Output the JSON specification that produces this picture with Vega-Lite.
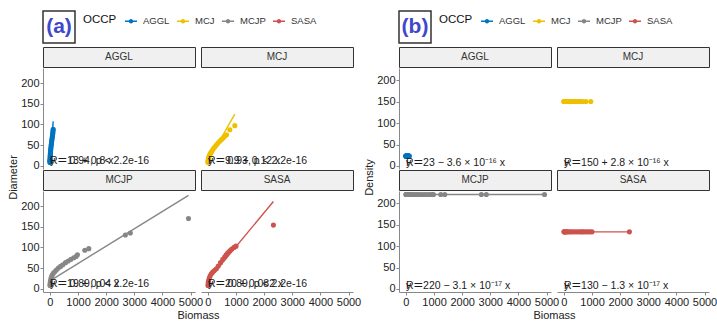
{
"$schema":"https://vega.github.io/schema/vega-lite/v6.json",
"background":"white",
"padding":{"left":7,"top":10,"right":0,"bottom":0},
"datasets":{
"pts":[
{"OCCP":"AGGL","Biomass":1,"Diameter":8,"Density":23},{"OCCP":"AGGL","Biomass":2,"Diameter":10,"Density":23},{"OCCP":"AGGL","Biomass":3,"Diameter":12,"Density":23},{"OCCP":"AGGL","Biomass":5,"Diameter":15,"Density":23},{"OCCP":"AGGL","Biomass":7,"Diameter":18,"Density":23},{"OCCP":"AGGL","Biomass":10,"Diameter":22,"Density":23},{"OCCP":"AGGL","Biomass":13,"Diameter":25,"Density":23},{"OCCP":"AGGL","Biomass":17,"Diameter":29,"Density":23},{"OCCP":"AGGL","Biomass":21,"Diameter":32,"Density":23},{"OCCP":"AGGL","Biomass":26,"Diameter":36,"Density":23},{"OCCP":"AGGL","Biomass":31,"Diameter":40,"Density":23},{"OCCP":"AGGL","Biomass":37,"Diameter":44,"Density":23},{"OCCP":"AGGL","Biomass":44,"Diameter":48,"Density":23},{"OCCP":"AGGL","Biomass":51,"Diameter":52,"Density":23},{"OCCP":"AGGL","Biomass":58,"Diameter":56,"Density":23},{"OCCP":"AGGL","Biomass":66,"Diameter":60,"Density":23},{"OCCP":"AGGL","Biomass":74,"Diameter":64,"Density":23},{"OCCP":"AGGL","Biomass":82,"Diameter":68,"Density":23},{"OCCP":"AGGL","Biomass":90,"Diameter":72,"Density":23},{"OCCP":"AGGL","Biomass":98,"Diameter":76,"Density":23},{"OCCP":"AGGL","Biomass":105,"Diameter":80,"Density":23},{"OCCP":"AGGL","Biomass":111,"Diameter":84,"Density":23},{"OCCP":"AGGL","Biomass":118,"Diameter":88,"Density":23},
{"OCCP":"MCJ","Biomass":2,"Diameter":8,"Density":150},{"OCCP":"MCJ","Biomass":5,"Diameter":10,"Density":150},{"OCCP":"MCJ","Biomass":10,"Diameter":13,"Density":150},{"OCCP":"MCJ","Biomass":18,"Diameter":16,"Density":150},{"OCCP":"MCJ","Biomass":28,"Diameter":19,"Density":150},{"OCCP":"MCJ","Biomass":40,"Diameter":22,"Density":150},{"OCCP":"MCJ","Biomass":55,"Diameter":25,"Density":150},{"OCCP":"MCJ","Biomass":75,"Diameter":28,"Density":150},{"OCCP":"MCJ","Biomass":100,"Diameter":31,"Density":150},{"OCCP":"MCJ","Biomass":130,"Diameter":34,"Density":150},{"OCCP":"MCJ","Biomass":165,"Diameter":38,"Density":150},{"OCCP":"MCJ","Biomass":205,"Diameter":42,"Density":150},{"OCCP":"MCJ","Biomass":250,"Diameter":46,"Density":150},{"OCCP":"MCJ","Biomass":300,"Diameter":50,"Density":150},{"OCCP":"MCJ","Biomass":360,"Diameter":55,"Density":150},{"OCCP":"MCJ","Biomass":420,"Diameter":59,"Density":150},{"OCCP":"MCJ","Biomass":480,"Diameter":63,"Density":150},{"OCCP":"MCJ","Biomass":540,"Diameter":67,"Density":150},{"OCCP":"MCJ","Biomass":600,"Diameter":71,"Density":150},{"OCCP":"MCJ","Biomass":663,"Diameter":75,"Density":150},{"OCCP":"MCJ","Biomass":780,"Diameter":87,"Density":150},{"OCCP":"MCJ","Biomass":957,"Diameter":97,"Density":150},
{"OCCP":"MCJP","Biomass":3,"Diameter":8,"Density":220},{"OCCP":"MCJP","Biomass":8,"Diameter":12,"Density":220},{"OCCP":"MCJP","Biomass":15,"Diameter":16,"Density":220},{"OCCP":"MCJP","Biomass":25,"Diameter":20,"Density":220},{"OCCP":"MCJP","Biomass":40,"Diameter":25,"Density":220},{"OCCP":"MCJP","Biomass":60,"Diameter":29,"Density":220},{"OCCP":"MCJP","Biomass":85,"Diameter":33,"Density":220},{"OCCP":"MCJP","Biomass":120,"Diameter":37,"Density":220},{"OCCP":"MCJP","Biomass":170,"Diameter":41,"Density":220},{"OCCP":"MCJP","Biomass":230,"Diameter":45,"Density":220},{"OCCP":"MCJP","Biomass":300,"Diameter":50,"Density":220},{"OCCP":"MCJP","Biomass":380,"Diameter":54,"Density":220},{"OCCP":"MCJP","Biomass":460,"Diameter":58,"Density":220},{"OCCP":"MCJP","Biomass":556,"Diameter":63,"Density":220},{"OCCP":"MCJP","Biomass":650,"Diameter":67,"Density":220},{"OCCP":"MCJP","Biomass":750,"Diameter":71,"Density":220},{"OCCP":"MCJP","Biomass":850,"Diameter":75,"Density":220},{"OCCP":"MCJP","Biomass":930,"Diameter":78,"Density":220},{"OCCP":"MCJP","Biomass":980,"Diameter":82,"Density":220},{"OCCP":"MCJP","Biomass":1241,"Diameter":93,"Density":220},{"OCCP":"MCJP","Biomass":1383,"Diameter":97,"Density":220},{"OCCP":"MCJP","Biomass":2684,"Diameter":130,"Density":220},{"OCCP":"MCJP","Biomass":2861,"Diameter":135,"Density":220},{"OCCP":"MCJP","Biomass":4929,"Diameter":170,"Density":220},
{"OCCP":"SASA","Biomass":3,"Diameter":8,"Density":133},{"OCCP":"SASA","Biomass":10,"Diameter":14,"Density":133},{"OCCP":"SASA","Biomass":25,"Diameter":20,"Density":133},{"OCCP":"SASA","Biomass":50,"Diameter":26,"Density":133},{"OCCP":"SASA","Biomass":80,"Diameter":31,"Density":133},{"OCCP":"SASA","Biomass":120,"Diameter":36,"Density":133},{"OCCP":"SASA","Biomass":170,"Diameter":40,"Density":133},{"OCCP":"SASA","Biomass":230,"Diameter":44,"Density":133},{"OCCP":"SASA","Biomass":300,"Diameter":48,"Density":133},{"OCCP":"SASA","Biomass":370,"Diameter":55,"Density":133},{"OCCP":"SASA","Biomass":450,"Diameter":63,"Density":133},{"OCCP":"SASA","Biomass":530,"Diameter":71,"Density":133},{"OCCP":"SASA","Biomass":600,"Diameter":77,"Density":133},{"OCCP":"SASA","Biomass":650,"Diameter":82,"Density":133},{"OCCP":"SASA","Biomass":710,"Diameter":87,"Density":133},{"OCCP":"SASA","Biomass":780,"Diameter":92,"Density":133},{"OCCP":"SASA","Biomass":850,"Diameter":96,"Density":133},{"OCCP":"SASA","Biomass":930,"Diameter":100,"Density":133},{"OCCP":"SASA","Biomass":1000,"Diameter":103,"Density":133},{"OCCP":"SASA","Biomass":2330,"Diameter":154,"Density":133}
],
"fit":[
{"OCCP":"AGGL","Biomass":1,"Diameter":13.8,"Density":23},{"OCCP":"AGGL","Biomass":118,"Diameter":107.4,"Density":23},
{"OCCP":"MCJ","Biomass":2,"Diameter":10.1,"Density":150},{"OCCP":"MCJ","Biomass":957,"Diameter":124.7,"Density":150},
{"OCCP":"MCJP","Biomass":3,"Diameter":19.1,"Density":220},{"OCCP":"MCJP","Biomass":4929,"Diameter":226,"Density":220},
{"OCCP":"SASA","Biomass":3,"Diameter":20.2,"Density":133},{"OCCP":"SASA","Biomass":2330,"Diameter":211.1,"Density":133}
],
"eq":[
{"OCCP":"AGGL","corA":"R = 0.94, p < 2.2e-16","eqA":"y = 13 + 0.8 x","corB":"R =","eqB":"y = 23 − 3.6 × 10⁻¹⁶ x"},
{"OCCP":"MCJ","corA":"R = 0.93, p < 2.2e-16","eqA":"y = 9.9 + 0.12 x","corB":"R =","eqB":"y = 150 + 2.8 × 10⁻¹⁶ x"},
{"OCCP":"MCJP","corA":"R = 0.89, p < 2.2e-16","eqA":"y = 19 + 0.04 x","corB":"R =","eqB":"y = 220 − 3.1 × 10⁻¹⁷ x"},
{"OCCP":"SASA","corA":"R = 0.89, p < 2.2e-16","eqA":"y = 20 + 0.082 x","corB":"R =","eqB":"y = 130 − 1.3 × 10⁻¹⁷ x"}
]
},
"config":{
"font":"Liberation Sans",
"view":{"stroke":null},
"axis":{"grid":false,"domainColor":"#888888","tickColor":"#888888","tickSize":3,"labelFontSize":11,"labelColor":"#222222","labelPadding":1,"labelFlush":false,"labelOverlap":false,"titleFontSize":11,"titleFontWeight":"normal","titleColor":"#222222"},
"legend":{"orient":"none","legendX":40,"legendY":4,"direction":"horizontal","titleOrient":"left","titleFontSize":11.5,"titleFontWeight":"normal","titleColor":"#111111","labelFontSize":9.5,"labelColor":"#333333","symbolSize":144,"symbolStrokeWidth":0,"columnPadding":7,"labelOffset":6,"titlePadding":8}
},
"resolve":{"scale":{"color":"independent"},"legend":{"color":"independent"}},
"spacing":2,
"hconcat":[
{"vconcat":[
 {"width":32,"height":32,"data":{"values":[{"panel":"(a)"}]},"view":{"stroke":"#333333","strokeWidth":1.5,"fill":"#ffffff"},"mark":{"type":"text","fontSize":21,"fontWeight":"bold","color":"#3f48cc"},"encoding":{"text":{"field":"panel"}}},
 {"concat":[
  {"width":152,"height":20,"data":{"values":[{"OCCP":"AGGL"}]},"view":{"fill":"#f0f0f0","stroke":"#333333","strokeWidth":1},"mark":{"type":"text","fontSize":10,"color":"#333333"},"encoding":{"text":{"field":"OCCP"}}},
  {"width":152,"height":20,"data":{"values":[{"OCCP":"MCJ"}]},"view":{"fill":"#f0f0f0","stroke":"#333333","strokeWidth":1},"mark":{"type":"text","fontSize":10,"color":"#333333"},"encoding":{"text":{"field":"OCCP"}}},
  {"width":152,"height":101,"layer":[
   {"data":{"name":"pts"},"transform":[{"filter":"datum.OCCP === 'AGGL'"}],"mark":{"type":"circle","size":26,"opacity":1},"encoding":{"x":{"field":"Biomass","type":"quantitative","scale":{"domain":[-245,5160],"nice":false,"zero":false},"axis":null},"y":{"field":"Diameter","type":"quantitative","scale":{"domain":[-8,236.5],"nice":false,"zero":false},"axis":{"values":[0,50,100,150,200],"title":"Diameter","titleY":109,"titlePadding":2}},"color":{"field":"OCCP","type":"nominal","scale":{"domain":["AGGL","MCJ","MCJP","SASA"],"range":["#0073C2","#EFC000","#868686","#CD534C"]},"legend":{"title":"OCCP","symbolType":"M-1,-0.12H1V0.12H-1ZM0.38,0A0.38,0.38,0,1,1,-0.38,0A0.38,0.38,0,1,1,0.38,0Z"}}}},
   {"data":{"name":"fit"},"transform":[{"filter":"datum.OCCP === 'AGGL'"}],"mark":{"type":"line","strokeWidth":1.4},"encoding":{"x":{"field":"Biomass","type":"quantitative","axis":null},"y":{"field":"Diameter","type":"quantitative","axis":{"values":[0,50,100,150,200],"title":"Diameter","titleY":109,"titlePadding":2}},"color":{"field":"OCCP","type":"nominal","legend":null}}},
   {"data":{"name":"eq"},"transform":[{"filter":"datum.OCCP === 'AGGL'"}],"mark":{"type":"text","align":"left","baseline":"alphabetic","fontSize":10.5,"color":"#1a1a1a"},"encoding":{"x":{"datum":0,"type":"quantitative","axis":null},"y":{"datum":3,"type":"quantitative","axis":{"values":[0,50,100,150,200],"title":"Diameter","titleY":109,"titlePadding":2}},"text":{"field":"corA"}}},
   {"data":{"name":"eq"},"transform":[{"filter":"datum.OCCP === 'AGGL'"}],"mark":{"type":"text","align":"left","baseline":"alphabetic","fontSize":10.5,"color":"#1a1a1a"},"encoding":{"x":{"datum":0,"type":"quantitative","axis":null},"y":{"datum":3,"type":"quantitative","axis":{"values":[0,50,100,150,200],"title":"Diameter","titleY":109,"titlePadding":2}},"text":{"field":"eqA"}}}
  ]},
  {"width":152,"height":101,"layer":[
   {"data":{"name":"pts"},"transform":[{"filter":"datum.OCCP === 'MCJ'"}],"mark":{"type":"circle","size":26,"opacity":1},"encoding":{"x":{"field":"Biomass","type":"quantitative","scale":{"domain":[-245,5160],"nice":false,"zero":false},"axis":null},"y":{"field":"Diameter","type":"quantitative","scale":{"domain":[-8,236.5],"nice":false,"zero":false},"axis":null},"color":{"field":"OCCP","type":"nominal","scale":{"domain":["AGGL","MCJ","MCJP","SASA"],"range":["#0073C2","#EFC000","#868686","#CD534C"]},"legend":{"title":"OCCP","symbolType":"M-1,-0.12H1V0.12H-1ZM0.38,0A0.38,0.38,0,1,1,-0.38,0A0.38,0.38,0,1,1,0.38,0Z"}}}},
   {"data":{"name":"fit"},"transform":[{"filter":"datum.OCCP === 'MCJ'"}],"mark":{"type":"line","strokeWidth":1.4},"encoding":{"x":{"field":"Biomass","type":"quantitative","axis":null},"y":{"field":"Diameter","type":"quantitative","axis":null},"color":{"field":"OCCP","type":"nominal","legend":null}}},
   {"data":{"name":"eq"},"transform":[{"filter":"datum.OCCP === 'MCJ'"}],"mark":{"type":"text","align":"left","baseline":"alphabetic","fontSize":10.5,"color":"#1a1a1a"},"encoding":{"x":{"datum":0,"type":"quantitative","axis":null},"y":{"datum":3,"type":"quantitative","axis":null},"text":{"field":"corA"}}},
   {"data":{"name":"eq"},"transform":[{"filter":"datum.OCCP === 'MCJ'"}],"mark":{"type":"text","align":"left","baseline":"alphabetic","fontSize":10.5,"color":"#1a1a1a"},"encoding":{"x":{"datum":0,"type":"quantitative","axis":null},"y":{"datum":3,"type":"quantitative","axis":null},"text":{"field":"eqA"}}}
  ]},
  {"width":152,"height":20,"data":{"values":[{"OCCP":"MCJP"}]},"view":{"fill":"#f0f0f0","stroke":"#333333","strokeWidth":1},"mark":{"type":"text","fontSize":10,"color":"#333333"},"encoding":{"text":{"field":"OCCP"}}},
  {"width":152,"height":20,"data":{"values":[{"OCCP":"SASA"}]},"view":{"fill":"#f0f0f0","stroke":"#333333","strokeWidth":1},"mark":{"type":"text","fontSize":10,"color":"#333333"},"encoding":{"text":{"field":"OCCP"}}},
  {"width":152,"height":101,"layer":[
   {"data":{"name":"pts"},"transform":[{"filter":"datum.OCCP === 'MCJP'"}],"mark":{"type":"circle","size":26,"opacity":1},"encoding":{"x":{"field":"Biomass","type":"quantitative","scale":{"domain":[-245,5160],"nice":false,"zero":false},"axis":{"values":[0,1000,2000,3000,4000,5000],"format":"d","title":"Biomass","titleX":155,"titlePadding":2}},"y":{"field":"Diameter","type":"quantitative","scale":{"domain":[-8,236.5],"nice":false,"zero":false},"axis":{"values":[0,50,100,150,200],"title":null}},"color":{"field":"OCCP","type":"nominal","scale":{"domain":["AGGL","MCJ","MCJP","SASA"],"range":["#0073C2","#EFC000","#868686","#CD534C"]},"legend":{"title":"OCCP","symbolType":"M-1,-0.12H1V0.12H-1ZM0.38,0A0.38,0.38,0,1,1,-0.38,0A0.38,0.38,0,1,1,0.38,0Z"}}}},
   {"data":{"name":"fit"},"transform":[{"filter":"datum.OCCP === 'MCJP'"}],"mark":{"type":"line","strokeWidth":1.4},"encoding":{"x":{"field":"Biomass","type":"quantitative","axis":{"values":[0,1000,2000,3000,4000,5000],"format":"d","title":"Biomass","titleX":155,"titlePadding":2}},"y":{"field":"Diameter","type":"quantitative","axis":{"values":[0,50,100,150,200],"title":null}},"color":{"field":"OCCP","type":"nominal","legend":null}}},
   {"data":{"name":"eq"},"transform":[{"filter":"datum.OCCP === 'MCJP'"}],"mark":{"type":"text","align":"left","baseline":"alphabetic","fontSize":10.5,"color":"#1a1a1a"},"encoding":{"x":{"datum":0,"type":"quantitative","axis":{"values":[0,1000,2000,3000,4000,5000],"format":"d","title":"Biomass","titleX":155,"titlePadding":2}},"y":{"datum":3,"type":"quantitative","axis":{"values":[0,50,100,150,200],"title":null}},"text":{"field":"corA"}}},
   {"data":{"name":"eq"},"transform":[{"filter":"datum.OCCP === 'MCJP'"}],"mark":{"type":"text","align":"left","baseline":"alphabetic","fontSize":10.5,"color":"#1a1a1a"},"encoding":{"x":{"datum":0,"type":"quantitative","axis":{"values":[0,1000,2000,3000,4000,5000],"format":"d","title":"Biomass","titleX":155,"titlePadding":2}},"y":{"datum":3,"type":"quantitative","axis":{"values":[0,50,100,150,200],"title":null}},"text":{"field":"eqA"}}}
  ]},
  {"width":152,"height":101,"layer":[
   {"data":{"name":"pts"},"transform":[{"filter":"datum.OCCP === 'SASA'"}],"mark":{"type":"circle","size":26,"opacity":1},"encoding":{"x":{"field":"Biomass","type":"quantitative","scale":{"domain":[-245,5160],"nice":false,"zero":false},"axis":{"values":[0,1000,2000,3000,4000,5000],"format":"d","title":null}},"y":{"field":"Diameter","type":"quantitative","scale":{"domain":[-8,236.5],"nice":false,"zero":false},"axis":null},"color":{"field":"OCCP","type":"nominal","scale":{"domain":["AGGL","MCJ","MCJP","SASA"],"range":["#0073C2","#EFC000","#868686","#CD534C"]},"legend":{"title":"OCCP","symbolType":"M-1,-0.12H1V0.12H-1ZM0.38,0A0.38,0.38,0,1,1,-0.38,0A0.38,0.38,0,1,1,0.38,0Z"}}}},
   {"data":{"name":"fit"},"transform":[{"filter":"datum.OCCP === 'SASA'"}],"mark":{"type":"line","strokeWidth":1.4},"encoding":{"x":{"field":"Biomass","type":"quantitative","axis":{"values":[0,1000,2000,3000,4000,5000],"format":"d","title":null}},"y":{"field":"Diameter","type":"quantitative","axis":null},"color":{"field":"OCCP","type":"nominal","legend":null}}},
   {"data":{"name":"eq"},"transform":[{"filter":"datum.OCCP === 'SASA'"}],"mark":{"type":"text","align":"left","baseline":"alphabetic","fontSize":10.5,"color":"#1a1a1a"},"encoding":{"x":{"datum":0,"type":"quantitative","axis":{"values":[0,1000,2000,3000,4000,5000],"format":"d","title":null}},"y":{"datum":3,"type":"quantitative","axis":null},"text":{"field":"corA"}}},
   {"data":{"name":"eq"},"transform":[{"filter":"datum.OCCP === 'SASA'"}],"mark":{"type":"text","align":"left","baseline":"alphabetic","fontSize":10.5,"color":"#1a1a1a"},"encoding":{"x":{"datum":0,"type":"quantitative","axis":{"values":[0,1000,2000,3000,4000,5000],"format":"d","title":null}},"y":{"datum":3,"type":"quantitative","axis":null},"text":{"field":"eqA"}}}
  ]}
 ],"columns":2,"spacing":{"row":1,"column":6},"bounds":"flush"}
],"spacing":2},
{"vconcat":[
 {"width":32,"height":32,"data":{"values":[{"panel":"(b)"}]},"view":{"stroke":"#333333","strokeWidth":1.5,"fill":"#ffffff"},"mark":{"type":"text","fontSize":21,"fontWeight":"bold","color":"#3f48cc"},"encoding":{"text":{"field":"panel"}}},
 {"concat":[
  {"width":152,"height":20,"data":{"values":[{"OCCP":"AGGL"}]},"view":{"fill":"#f0f0f0","stroke":"#333333","strokeWidth":1},"mark":{"type":"text","fontSize":10,"color":"#333333"},"encoding":{"text":{"field":"OCCP"}}},
  {"width":152,"height":20,"data":{"values":[{"OCCP":"MCJ"}]},"view":{"fill":"#f0f0f0","stroke":"#333333","strokeWidth":1},"mark":{"type":"text","fontSize":10,"color":"#333333"},"encoding":{"text":{"field":"OCCP"}}},
  {"width":152,"height":101,"layer":[
   {"data":{"name":"pts"},"transform":[{"filter":"datum.OCCP === 'AGGL'"}],"mark":{"type":"circle","size":26,"opacity":1},"encoding":{"x":{"field":"Biomass","type":"quantitative","scale":{"domain":[-245,5160],"nice":false,"zero":false},"axis":null},"y":{"field":"Density","type":"quantitative","scale":{"domain":[-7,228],"nice":false,"zero":false},"axis":{"values":[0,50,100,150,200],"title":"Density","titleY":109,"titlePadding":2}},"color":{"field":"OCCP","type":"nominal","scale":{"domain":["AGGL","MCJ","MCJP","SASA"],"range":["#0073C2","#EFC000","#868686","#CD534C"]},"legend":{"title":"OCCP","symbolType":"M-1,-0.12H1V0.12H-1ZM0.38,0A0.38,0.38,0,1,1,-0.38,0A0.38,0.38,0,1,1,0.38,0Z"}}}},
   {"data":{"name":"fit"},"transform":[{"filter":"datum.OCCP === 'AGGL'"}],"mark":{"type":"line","strokeWidth":1.4},"encoding":{"x":{"field":"Biomass","type":"quantitative","axis":null},"y":{"field":"Density","type":"quantitative","axis":{"values":[0,50,100,150,200],"title":"Density","titleY":109,"titlePadding":2}},"color":{"field":"OCCP","type":"nominal","legend":null}}},
   {"data":{"name":"eq"},"transform":[{"filter":"datum.OCCP === 'AGGL'"}],"mark":{"type":"text","align":"left","baseline":"alphabetic","fontSize":10.5,"color":"#1a1a1a"},"encoding":{"x":{"datum":0,"type":"quantitative","axis":null},"y":{"datum":1,"type":"quantitative","axis":{"values":[0,50,100,150,200],"title":"Density","titleY":109,"titlePadding":2}},"text":{"field":"corB"}}},
   {"data":{"name":"eq"},"transform":[{"filter":"datum.OCCP === 'AGGL'"}],"mark":{"type":"text","align":"left","baseline":"alphabetic","fontSize":10.5,"color":"#1a1a1a"},"encoding":{"x":{"datum":0,"type":"quantitative","axis":null},"y":{"datum":1,"type":"quantitative","axis":{"values":[0,50,100,150,200],"title":"Density","titleY":109,"titlePadding":2}},"text":{"field":"eqB"}}}
  ]},
  {"width":152,"height":101,"layer":[
   {"data":{"name":"pts"},"transform":[{"filter":"datum.OCCP === 'MCJ'"}],"mark":{"type":"circle","size":26,"opacity":1},"encoding":{"x":{"field":"Biomass","type":"quantitative","scale":{"domain":[-245,5160],"nice":false,"zero":false},"axis":null},"y":{"field":"Density","type":"quantitative","scale":{"domain":[-7,228],"nice":false,"zero":false},"axis":null},"color":{"field":"OCCP","type":"nominal","scale":{"domain":["AGGL","MCJ","MCJP","SASA"],"range":["#0073C2","#EFC000","#868686","#CD534C"]},"legend":{"title":"OCCP","symbolType":"M-1,-0.12H1V0.12H-1ZM0.38,0A0.38,0.38,0,1,1,-0.38,0A0.38,0.38,0,1,1,0.38,0Z"}}}},
   {"data":{"name":"fit"},"transform":[{"filter":"datum.OCCP === 'MCJ'"}],"mark":{"type":"line","strokeWidth":1.4},"encoding":{"x":{"field":"Biomass","type":"quantitative","axis":null},"y":{"field":"Density","type":"quantitative","axis":null},"color":{"field":"OCCP","type":"nominal","legend":null}}},
   {"data":{"name":"eq"},"transform":[{"filter":"datum.OCCP === 'MCJ'"}],"mark":{"type":"text","align":"left","baseline":"alphabetic","fontSize":10.5,"color":"#1a1a1a"},"encoding":{"x":{"datum":0,"type":"quantitative","axis":null},"y":{"datum":1,"type":"quantitative","axis":null},"text":{"field":"corB"}}},
   {"data":{"name":"eq"},"transform":[{"filter":"datum.OCCP === 'MCJ'"}],"mark":{"type":"text","align":"left","baseline":"alphabetic","fontSize":10.5,"color":"#1a1a1a"},"encoding":{"x":{"datum":0,"type":"quantitative","axis":null},"y":{"datum":1,"type":"quantitative","axis":null},"text":{"field":"eqB"}}}
  ]},
  {"width":152,"height":20,"data":{"values":[{"OCCP":"MCJP"}]},"view":{"fill":"#f0f0f0","stroke":"#333333","strokeWidth":1},"mark":{"type":"text","fontSize":10,"color":"#333333"},"encoding":{"text":{"field":"OCCP"}}},
  {"width":152,"height":20,"data":{"values":[{"OCCP":"SASA"}]},"view":{"fill":"#f0f0f0","stroke":"#333333","strokeWidth":1},"mark":{"type":"text","fontSize":10,"color":"#333333"},"encoding":{"text":{"field":"OCCP"}}},
  {"width":152,"height":101,"layer":[
   {"data":{"name":"pts"},"transform":[{"filter":"datum.OCCP === 'MCJP'"}],"mark":{"type":"circle","size":26,"opacity":1},"encoding":{"x":{"field":"Biomass","type":"quantitative","scale":{"domain":[-245,5160],"nice":false,"zero":false},"axis":{"values":[0,1000,2000,3000,4000,5000],"format":"d","title":"Biomass","titleX":155,"titlePadding":2}},"y":{"field":"Density","type":"quantitative","scale":{"domain":[-7,228],"nice":false,"zero":false},"axis":{"values":[0,50,100,150,200],"title":null}},"color":{"field":"OCCP","type":"nominal","scale":{"domain":["AGGL","MCJ","MCJP","SASA"],"range":["#0073C2","#EFC000","#868686","#CD534C"]},"legend":{"title":"OCCP","symbolType":"M-1,-0.12H1V0.12H-1ZM0.38,0A0.38,0.38,0,1,1,-0.38,0A0.38,0.38,0,1,1,0.38,0Z"}}}},
   {"data":{"name":"fit"},"transform":[{"filter":"datum.OCCP === 'MCJP'"}],"mark":{"type":"line","strokeWidth":1.4},"encoding":{"x":{"field":"Biomass","type":"quantitative","axis":{"values":[0,1000,2000,3000,4000,5000],"format":"d","title":"Biomass","titleX":155,"titlePadding":2}},"y":{"field":"Density","type":"quantitative","axis":{"values":[0,50,100,150,200],"title":null}},"color":{"field":"OCCP","type":"nominal","legend":null}}},
   {"data":{"name":"eq"},"transform":[{"filter":"datum.OCCP === 'MCJP'"}],"mark":{"type":"text","align":"left","baseline":"alphabetic","fontSize":10.5,"color":"#1a1a1a"},"encoding":{"x":{"datum":0,"type":"quantitative","axis":{"values":[0,1000,2000,3000,4000,5000],"format":"d","title":"Biomass","titleX":155,"titlePadding":2}},"y":{"datum":1,"type":"quantitative","axis":{"values":[0,50,100,150,200],"title":null}},"text":{"field":"corB"}}},
   {"data":{"name":"eq"},"transform":[{"filter":"datum.OCCP === 'MCJP'"}],"mark":{"type":"text","align":"left","baseline":"alphabetic","fontSize":10.5,"color":"#1a1a1a"},"encoding":{"x":{"datum":0,"type":"quantitative","axis":{"values":[0,1000,2000,3000,4000,5000],"format":"d","title":"Biomass","titleX":155,"titlePadding":2}},"y":{"datum":1,"type":"quantitative","axis":{"values":[0,50,100,150,200],"title":null}},"text":{"field":"eqB"}}}
  ]},
  {"width":152,"height":101,"layer":[
   {"data":{"name":"pts"},"transform":[{"filter":"datum.OCCP === 'SASA'"}],"mark":{"type":"circle","size":26,"opacity":1},"encoding":{"x":{"field":"Biomass","type":"quantitative","scale":{"domain":[-245,5160],"nice":false,"zero":false},"axis":{"values":[0,1000,2000,3000,4000,5000],"format":"d","title":null}},"y":{"field":"Density","type":"quantitative","scale":{"domain":[-7,228],"nice":false,"zero":false},"axis":null},"color":{"field":"OCCP","type":"nominal","scale":{"domain":["AGGL","MCJ","MCJP","SASA"],"range":["#0073C2","#EFC000","#868686","#CD534C"]},"legend":{"title":"OCCP","symbolType":"M-1,-0.12H1V0.12H-1ZM0.38,0A0.38,0.38,0,1,1,-0.38,0A0.38,0.38,0,1,1,0.38,0Z"}}}},
   {"data":{"name":"fit"},"transform":[{"filter":"datum.OCCP === 'SASA'"}],"mark":{"type":"line","strokeWidth":1.4},"encoding":{"x":{"field":"Biomass","type":"quantitative","axis":{"values":[0,1000,2000,3000,4000,5000],"format":"d","title":null}},"y":{"field":"Density","type":"quantitative","axis":null},"color":{"field":"OCCP","type":"nominal","legend":null}}},
   {"data":{"name":"eq"},"transform":[{"filter":"datum.OCCP === 'SASA'"}],"mark":{"type":"text","align":"left","baseline":"alphabetic","fontSize":10.5,"color":"#1a1a1a"},"encoding":{"x":{"datum":0,"type":"quantitative","axis":{"values":[0,1000,2000,3000,4000,5000],"format":"d","title":null}},"y":{"datum":1,"type":"quantitative","axis":null},"text":{"field":"corB"}}},
   {"data":{"name":"eq"},"transform":[{"filter":"datum.OCCP === 'SASA'"}],"mark":{"type":"text","align":"left","baseline":"alphabetic","fontSize":10.5,"color":"#1a1a1a"},"encoding":{"x":{"datum":0,"type":"quantitative","axis":{"values":[0,1000,2000,3000,4000,5000],"format":"d","title":null}},"y":{"datum":1,"type":"quantitative","axis":null},"text":{"field":"eqB"}}}
  ]}
 ],"columns":2,"spacing":{"row":1,"column":6},"bounds":"flush"}
],"spacing":2}
]
}
